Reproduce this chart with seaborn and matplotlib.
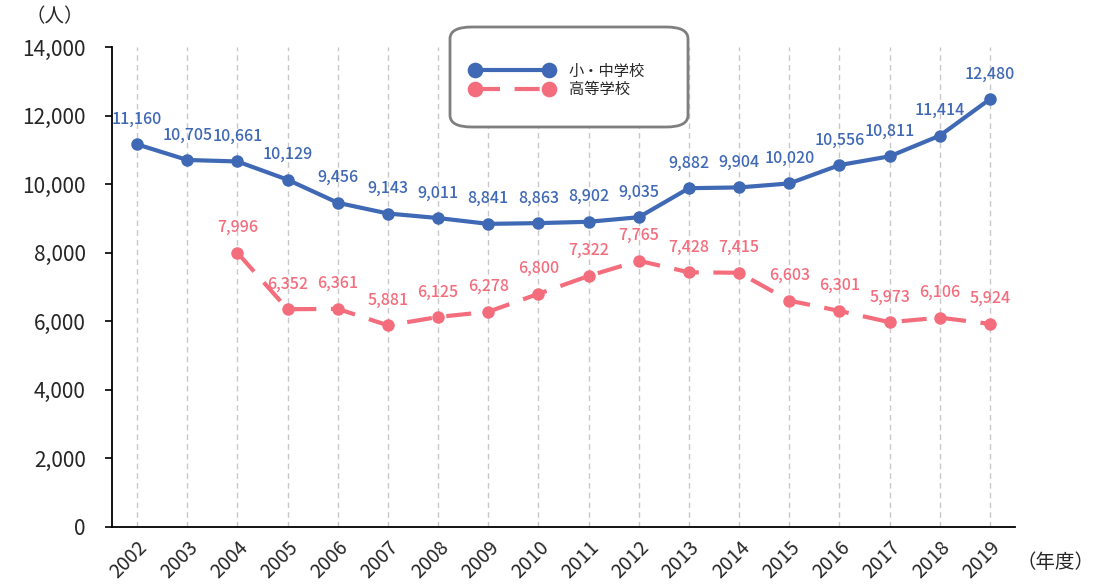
import numpy as np
import pandas as pd
import matplotlib
matplotlib.use('Agg')
import matplotlib.pyplot as plt
from matplotlib.patches import FancyBboxPatch
import seaborn as sns

# data
years = list(range(2002, 2020))
elem_junior = [11160, 10705, 10661, 10129, 9456, 9143, 9011, 8841, 8863,
               8902, 9035, 9882, 9904, 10020, 10556, 10811, 11414, 12480]
high_years = list(range(2004, 2020))
high_school = [7996, 6352, 6361, 5881, 6125, 6278, 6800, 7322, 7765,
               7428, 7415, 6603, 6301, 5973, 6106, 5924]
series_names = ['小・中学校', '高等学校']
y_ticks = [0, 2000, 4000, 6000, 8000, 10000, 12000, 14000]

blue = '#3F68B5'
pink = '#F46D7D'

sns.set_style('white')
plt.rcParams['font.family'] = ['Noto Sans CJK JP', 'DejaVu Sans']

df_a = pd.DataFrame({'year': years, 'value': elem_junior})
df_b = pd.DataFrame({'year': high_years, 'value': high_school})

fig = plt.figure(figsize=(10.95, 5.86), dpi=100)
ax = fig.add_axes([0.1023, 0.1007, 0.8247, 0.8191])

sns.lineplot(data=df_a, x='year', y='value', ax=ax, color=blue, lw=3,
             marker='o', markersize=9, markeredgewidth=0, label=series_names[0])
sns.lineplot(data=df_b, x='year', y='value', ax=ax, color=pink, lw=3,
             linestyle=(0, (6, 3.5)), marker='o', markersize=9,
             markeredgewidth=0, label=series_names[1])

# value labels
for x, v in zip(years, elem_junior):
    ax.annotate(f'{v:,}', (x, v), xytext=(0, 12), textcoords='offset points',
                ha='center', va='bottom', color=blue, fontsize=11.5, fontweight='medium')
for x, v in zip(high_years, high_school):
    ax.annotate(f'{v:,}', (x, v), xytext=(0, 12), textcoords='offset points',
                ha='center', va='bottom', color=pink, fontsize=11.5, fontweight='medium')

ax.set_xlim(2001.5, 2019.5)
ax.set_ylim(0, 14000)
ax.set_xticks(years)
ax.set_xticklabels([str(y) for y in years], rotation=45, ha='right',
                   rotation_mode='anchor', fontsize=14)
ax.set_yticks(y_ticks)
ax.set_yticklabels([f'{t:,}' for t in y_ticks], fontsize=15)
ax.tick_params(axis='y', left=True, length=5, width=1.2, color='black', pad=14)
ax.tick_params(axis='x', bottom=False, pad=4)
ax.set_xlabel('')
ax.set_ylabel('')

ax.grid(axis='x', color='#C8C8C8', linestyle=(0, (4, 3)), lw=1)
ax.grid(axis='y', visible=False)
for side in ['top', 'right']:
    ax.spines[side].set_visible(False)
for side in ['left', 'bottom']:
    ax.spines[side].set_color('black')
    ax.spines[side].set_linewidth(1.3)

# legend with a rounded frame drawn by hand
leg = ax.legend(loc='center left', bbox_to_anchor=(0.382, 0.93), frameon=False,
                numpoints=2, handlelength=5.4, fontsize=11, labelspacing=0.1,
                handletextpad=1.0, markerscale=1.25)
box = FancyBboxPatch((450 / 1095, 1 - 127 / 586), 238 / 1095, 100 / 586,
                     boxstyle='round,pad=0,rounding_size=0.02',
                     transform=fig.transFigure, facecolor='white',
                     edgecolor='#7F7F7F', lw=2, zorder=5)
fig.patches.append(box)
leg.set_zorder(6)
fig.add_artist(leg)

fig.text(55 / 1095, 1 - 17 / 586, '（人）', ha='center', va='center', fontsize=14)
fig.text(1055 / 1095, 1 - 562 / 586, '（年度）', ha='center', va='center', fontsize=14)

fig.savefig('out.png', dpi=100)
